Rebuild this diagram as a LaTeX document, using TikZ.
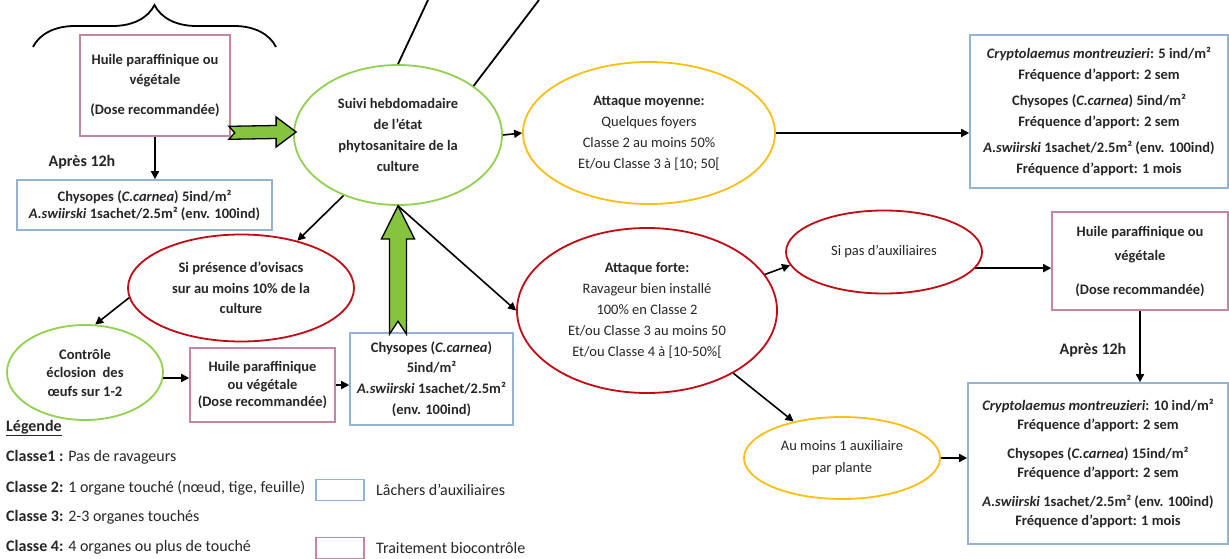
\documentclass[tikz,border=0pt]{standalone}
\usepackage{fontspec}
\setmainfont{Carlito}
\usetikzlibrary{shapes.geometric,arrows.meta,calc,decorations.pathreplacing}
\definecolor{cgreen}{RGB}{146,208,80}
\definecolor{cgold}{RGB}{250,190,20}
\definecolor{cred}{RGB}{192,10,20}
\definecolor{cblue}{RGB}{149,179,215}
\definecolor{cpink}{RGB}{195,135,165}
\definecolor{cfill}{RGB}{134,196,64}
\definecolor{ctext}{RGB}{38,38,38}
\begin{document}
\begin{tikzpicture}[x=1pt,y=-1pt,
  every node/.style={text=ctext, inner sep=0pt, font=\fontsize{14.5}{21}\selectfont},
  bf/.style={font=\fontsize{14.5}{21}\selectfont\bfseries},
  lg/.style={font=\fontsize{16}{20}\selectfont},
  ell/.style={ellipse, draw, line width=1.8pt, inner sep=0pt, align=center},
  box/.style={rectangle, draw, line width=1.6pt, inner sep=0pt, align=center},
  bl/.style={box, draw=cblue},
  pk/.style={box, draw=cpink},
  arr/.style={line width=1.6pt, -{Triangle[length=8pt,width=8pt]}},
  fat/.style={line width=1.3pt, draw=black, fill=cfill, line join=miter}
]
\useasboundingbox (0,0) rectangle (1229,559);

% brace
\coordinate (brL) at (33,47);
\coordinate (brR) at (276,47);
\draw[line width=1.8pt, decorate, decoration={brace, amplitude=42pt}] (brL) -- (brR);

% boxes
\node[pk, bf, minimum width=150pt, minimum height=101pt] (pink1) at (155,85.5)
  {Huile paraffinique ou\\végétale\\[9pt](Dose recommandée)};
\node[bl, font=\fontsize{14.5}{17}\selectfont\bfseries, minimum width=255pt, minimum height=50pt] (blue2) at (144.5,205)
  {Chysopes (\textit{C.carnea}) 5ind/m²\\\textit{A.swiirski} 1sachet/2.5m² (env. 100ind)};
\node[bl, font=\fontsize{14.5}{20.5}\selectfont\bfseries, minimum width=258pt, minimum height=153pt] (blue1) at (1099,111.5)
  {\textit{Cryptolaemus montreuzieri}: 5 ind/m²\\Fréquence d’apport: 2 sem\\[6pt]Chysopes (\textit{C.carnea}) 5ind/m²\\Fréquence d’apport: 2 sem\\[6pt]\textit{A.swiirski} 1sachet/2.5m² (env. 100ind)\\Fréquence d’apport: 1 mois};
\node[bl, font=\fontsize{14.5}{20.7}\selectfont\bfseries, minimum width=163pt, minimum height=92pt] (blue3) at (431.5,379)
  {Chysopes (\textit{C.carnea})\\5ind/m²\\\textit{A.swiirski} 1sachet/2.5m²\\(env. 100ind)};
\node[pk, font=\fontsize{14.5}{17.5}\selectfont\bfseries, minimum width=145pt, minimum height=74pt] (pink2) at (262.5,385)
  {Huile paraffinique\\ou végétale\\(Dose recommandée)};
\node[pk, bf, minimum width=176pt, minimum height=98pt] (pink3) at (1140,261)
  {Huile paraffinique ou\\[3pt]végétale\\[13pt](Dose recommandée)};
\node[bl, font=\fontsize{14.5}{19}\selectfont\bfseries, minimum width=260pt, minimum height=161pt] (blue4) at (1098,463.5)
  {\textit{Cryptolaemus montreuzieri}: 10 ind/m²\\Fréquence d’apport: 2 sem\\[10pt]Chysopes (\textit{C.carnea}) 15ind/m²\\Fréquence d’apport: 2 sem\\[10pt]\textit{A.swiirski} 1sachet/2.5m² (env. 100ind)\\Fréquence d’apport: 1 mois};

% ellipses
\node[ell, bf, draw=cgreen, minimum width=208pt, minimum height=140pt] (suivi) at (398,135)
  {Suivi hebdomadaire\\de l’état\\phytosanitaire de la\\culture};
\node[ell, draw=cgold, minimum width=252pt, minimum height=142pt] (moy) at (649,133)
  {\textbf{Attaque moyenne:}\\Quelques foyers\\Classe 2 au moins 50\%\\Et/ou Classe 3 à [10; 50[};
\node[ell, font=\fontsize{14.5}{20.5}\selectfont\bfseries, draw=cred, minimum width=226pt, minimum height=107pt] (pres) at (241,288)
  {Si présence d’ovisacs\\sur au moins 10\% de la\\culture};
\node[ell, font=\fontsize{14.5}{18.5}\selectfont\bfseries, draw=cgreen, minimum width=156pt, minimum height=95pt] (ctrl) at (85,372.5)
  {Contrôle\\éclosion~~des\\œufs sur 1-2};
\node[ell, draw=cred, minimum width=260pt, minimum height=165pt] (forte) at (647,310.5)
  {\textbf{Attaque forte:}\\Ravageur bien installé\\100\% en Classe 2\\Et/ou Classe 3 au moins 50\\Et/ou Classe 4 à [10-50\%[};
\node[ell, draw=cred, minimum width=196pt, minimum height=83pt] (sipas) at (884,252)
  {Si pas d’auxiliaires};
\node[ell, font=\fontsize{14.5}{22}\selectfont, draw=cgold, minimum width=196pt, minimum height=82pt] (aumoins) at (842,458)
  {Au moins 1 auxiliaire\\par plante};

% labels
\node[lg, font=\fontsize{16}{20}\selectfont\bfseries] (ap1) at (82,162) {Après 12h};
\node[lg, font=\fontsize{16}{20}\selectfont\bfseries] (ap2) at (1093,350) {Après 12h};

% top lines
\coordinate (t1) at (428,0);
\coordinate (t2) at (539,0);
\draw[line width=1.8pt] (suivi.north) -- (t1);
\draw[line width=1.8pt] (suivi.33) -- (t2);

% connectors
\draw[arr] (suivi.east) -- (moy.west);
\draw[arr] (moy.east) -- (moy.east -| blue1.west);
\draw[arr] (suivi.228) -- (pres.40);
\draw[arr] (pres.185) -- (ctrl.78);
\draw[arr] (ctrl.-4) -- (ctrl.-4 -| pink2.west);
\draw[arr] (pink2.east) -- (pink2.east -| blue3.west);
\draw[arr] (pink1.south) -- (pink1.south |- blue2.north);
\draw[arr] (suivi.south) -- (forte.west);
\draw[arr] (forte.17) -- (sipas.188);
\draw[arr] (sipas.-10) -- (sipas.-10 -| pink3.west);
\draw[arr] (pink3.south) -- (pink3.south |- blue4.north);
\draw[arr] (forte.-36) -- (aumoins.143);
\draw[arr] (aumoins.east) -- (aumoins.east -| blue4.west);

% big green arrows
\coordinate (hT) at ($(pink1.south east)+(-2,-4)$);
\coordinate (hP) at ($(suivi.west)+(3,-3)$);
\draw[fat] ($(hT)+(0,-6.5)$) -- ($(hP)+(-20,-6.5)$) -- ($(hP)+(-20,-15)$) -- (hP)
  -- ($(hP)+(-20,15)$) -- ($(hP)+(-20,6.5)$) -- ($(hT)+(0,6.5)$) -- ($(hT)+(6,0)$) -- cycle;
\coordinate (vP) at (suivi.south);
\coordinate (vT) at ($(suivi.south |- blue3.north)+(0,2)$);
\draw[fat] ($(vT)+(-8.5,0)$) -- ($(vP)+(-8.5,33)$) -- ($(vP)+(-16.5,33)$) -- (vP)
  -- ($(vP)+(16.5,33)$) -- ($(vP)+(8.5,33)$) -- ($(vT)+(8.5,0)$) -- ($(vT)+(0,-13)$) -- cycle;

% legend
\node[lg, font=\fontsize{16}{20}\selectfont\bfseries, anchor=west] (leg) at (6,428) {\underline{Légende}};
\node[lg, anchor=west] (c1) at (6,457) {\textbf{Classe1 :} Pas de ravageurs};
\node[lg, anchor=west] (c2) at (6,488) {\textbf{Classe 2:} 1 organe touché (nœud, tige, feuille)};
\node[lg, anchor=west] (c3) at (6,517) {\textbf{Classe 3:} 2-3 organes touchés};
\node[lg, anchor=west] (c4) at (6,547) {\textbf{Classe 4:} 4 organes ou plus de touché};
\node[bl, minimum width=48pt, minimum height=21pt] (lb) at (340,490) {};
\node[pk, minimum width=48pt, minimum height=21pt] (lp) at (340,548) {};
\node[lg, anchor=west] (lt1) at (376,490) {Lâchers d’auxiliaires};
\node[lg, anchor=west] (lt2) at (376,548) {Traitement biocontrôle};
\end{tikzpicture}
\end{document}
